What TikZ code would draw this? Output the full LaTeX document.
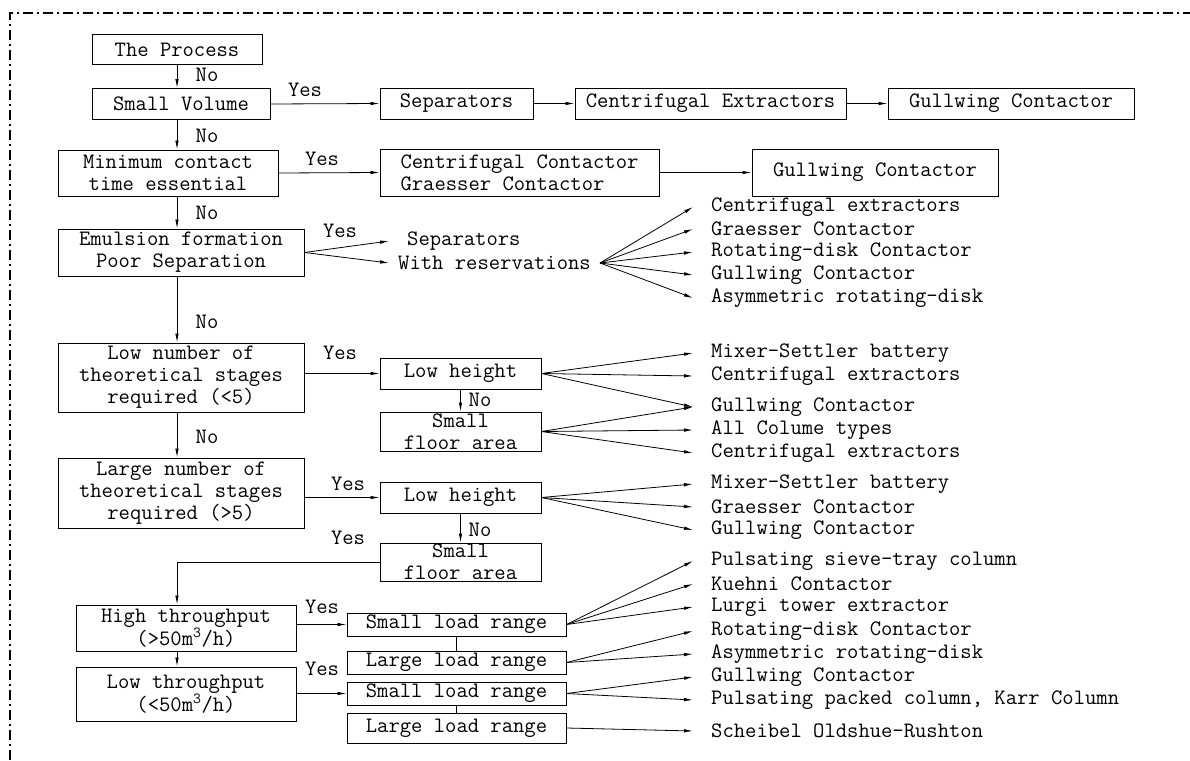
\documentclass[tikz,border=0pt]{standalone}
\usetikzlibrary{arrows.meta,positioning,calc}
\newcommand{\flowfont}{\ttfamily\fontsize{22}{22}\selectfont}
\tikzset{
  query/.style={
    draw=black, line width=1pt, align=center, inner sep=1pt, font=\flowfont
  },
  answer/.style={
    draw=black, line width=1pt, align=center, inner sep=1pt, font=\flowfont
  },
  product/.style={
    anchor=west, inner xsep=18pt, inner ysep=1pt, font=\flowfont
  },
  verdict/.style={inner sep=1pt, font=\flowfont},
  flowlink/.style={-{Latex[length=9pt,width=3.5pt]}, line width=0.8pt},
  tielink/.style={line width=0.8pt},
  framelink/.style={line width=1.2pt, dash pattern=on 10pt off 4pt on 2pt off 4pt}
}

\begin{document}
\begin{tikzpicture}

\useasboundingbox (0,0) rectangle (1190pt,-760pt);
\draw[framelink] (10pt,-760pt) -- (10pt,-13pt) -- (1190pt,-13pt);

% decisions on the left
\node[query, minimum width=170pt, minimum height=30pt] (process) at (177pt,-49.5pt) {The Process};
\node[query, minimum width=178pt, minimum height=31pt] (smallvol) at (181pt,-104pt) {Small Volume};
\node[query, minimum width=220pt, minimum height=46pt] (mincontact) at (168pt,-173pt) {Minimum contact\\time essential};
\node[query, minimum width=246pt, minimum height=47pt] (emulsion) at (181pt,-252.5pt) {Emulsion formation\\Poor Separation};
\node[query, minimum width=246pt, minimum height=69pt] (lownum) at (181pt,-377.5pt) {Low number of\\theoretical stages\\required (<5)};
\node[query, minimum width=246pt, minimum height=70pt] (largenum) at (181pt,-493pt) {Large number of\\theoretical stages\\required (>5)};
\node[query, minimum width=220pt, minimum height=46pt] (highthr) at (186pt,-628pt) {High throughput\\(>50m\textsuperscript{3}/h)};
\node[query, minimum width=220pt, minimum height=54pt] (lowthr) at (186pt,-694pt) {Low throughput\\(<50m\textsuperscript{3}/h)};

% boxes in the middle
\node[answer, minimum width=153pt, minimum height=31pt] (sep1) at (456.5pt,-103.5pt) {Separators};
\node[answer, minimum width=271pt, minimum height=31pt] (centext) at (710.5pt,-103.5pt) {Centrifugal Extractors};
\node[answer, minimum width=246pt, minimum height=31pt] (gull1) at (1011pt,-103.5pt) {Gullwing Contactor};
\node[answer, minimum width=279pt, minimum height=47pt, align=left] (centgr) at (519.5pt,-172.5pt) {Centrifugal Contactor\\Graesser Contactor};
\node[answer, minimum width=246pt, minimum height=47pt] (gull2) at (875pt,-172.5pt) {Gullwing Contactor};
\node[product, inner xsep=18pt] (sepA) at (389pt,-241pt) {Separators};
\node[product, inner xsep=9pt] (resvA) at (389pt,-263pt) {With reservations};
\node[answer, minimum width=161pt, minimum height=31pt] (lowh1) at (460.5pt,-373.5pt) {Low height};
\node[answer, minimum width=161pt, minimum height=39pt] (floor1) at (460.5pt,-431.5pt) {Small\\floor area};
\node[answer, minimum width=161pt, minimum height=31pt] (lowh2) at (460.5pt,-497.5pt) {Low height};
\node[answer, minimum width=161pt, minimum height=38pt] (floor2) at (460.5pt,-562pt) {Small\\floor area};
\node[answer, minimum width=219pt, minimum height=23pt] (smload1) at (456.5pt,-624.5pt) {Small load range};
\node[answer, minimum width=219pt, minimum height=23pt] (lgload1) at (456.5pt,-662.5pt) {Large load range};
\node[answer, minimum width=219pt, minimum height=23pt] (smload2) at (456.5pt,-693.5pt) {Small load range};
\node[answer, minimum width=219pt, minimum height=30pt] (lgload2) at (456.5pt,-728pt) {Large load range};

% equipment on the right
\node[product] (cext1) at (693pt,-207pt) {Centrifugal extractors};
\node[product] (grs1) at (693pt,-229pt) {Graesser Contactor};
\node[product] (rdc1) at (693pt,-252pt) {Rotating-disk Contactor};
\node[product] (gull3) at (693pt,-275pt) {Gullwing Contactor};
\node[product] (asym1) at (693pt,-298pt) {Asymmetric rotating-disk};
\node[product] (mix1) at (693pt,-353pt) {Mixer-Settler battery};
\node[product] (cext2) at (693pt,-376pt) {Centrifugal extractors};
\node[product] (gull4) at (693pt,-407pt) {Gullwing Contactor};
\node[product] (allcol) at (693pt,-430pt) {All Colume types};
\node[product] (cext3) at (693pt,-453pt) {Centrifugal extractors};
\node[product] (mix2) at (693pt,-484pt) {Mixer-Settler battery};
\node[product] (grs2) at (693pt,-507pt) {Graesser Contactor};
\node[product] (gull5) at (693pt,-530pt) {Gullwing Contactor};
\node[product] (sieve) at (693pt,-561pt) {Pulsating sieve-tray column};
\node[product] (kuehni) at (693pt,-584pt) {Kuehni Contactor};
\node[product] (lurgi) at (693pt,-607pt) {Lurgi tower extractor};
\node[product] (rdc2) at (693pt,-631pt) {Rotating-disk Contactor};
\node[product] (asym2) at (693pt,-654pt) {Asymmetric rotating-disk};
\node[product] (gull6) at (693pt,-677pt) {Gullwing Contactor};
\node[product] (karr) at (693pt,-700pt) {Pulsating packed column, Karr Column};
\node[product] (scheibel) at (693pt,-731pt) {Scheibel Oldshue-Rushton};

% yes / no
\node[verdict] (no1) at (207pt,-75pt) {No};
\node[verdict] (no2) at (207pt,-136pt) {No};
\node[verdict] (no3) at (207pt,-213pt) {No};
\node[verdict] (no4) at (207pt,-322pt) {No};
\node[verdict] (no5) at (207pt,-437pt) {No};
\node[verdict] (no6) at (480pt,-400pt) {No};
\node[verdict] (no7) at (480pt,-530pt) {No};
\node[verdict] (yes1) at (305pt,-90pt) {Yes};
\node[verdict] (yes2) at (322pt,-159pt) {Yes};
\node[verdict] (yes3) at (340pt,-231pt) {Yes};
\node[verdict] (yes4) at (340pt,-353pt) {Yes};
\node[verdict] (yes5) at (348pt,-484pt) {Yes};
\node[verdict] (yes6) at (348pt,-538pt) {Yes};
\node[verdict] (yes7) at (322pt,-607pt) {Yes};
\node[verdict] (yes8) at (322pt,-669pt) {Yes};

% main trunk
\draw[flowlink] (process.south) -- (process.south |- smallvol.north);
\draw[flowlink] (smallvol.south -| process.south) -- (mincontact.north -| process.south);
\draw[flowlink] (mincontact.south -| process.south) -- (emulsion.north -| process.south);
\draw[flowlink] (emulsion.south -| process.south) -- (lownum.north -| process.south);
\draw[flowlink] (lownum.south -| process.south) -- (largenum.north -| process.south);
\draw[flowlink] (floor2.west) -| (highthr.north -| process.south);
\draw[flowlink] (highthr.south -| process.south) -- (lowthr.north -| process.south);

% yes branches
\draw[flowlink] (smallvol.east) -- (sep1.west);
\draw[flowlink] (sep1.east) -- (centext.west);
\draw[flowlink] (centext.east) -- (gull1.west);
\draw[flowlink] (mincontact.east) -- (centgr.west);
\draw[flowlink] (centgr.east) -- (gull2.west);
\draw[flowlink] (emulsion.east) -- (sepA.west);
\draw[flowlink] (emulsion.east) -- (resvA.west);
\draw[flowlink] (lowh1.west -| lownum.east) -- (lowh1.west);
\draw[flowlink] (lowh1.south) -- (floor1.north);
\draw[flowlink] (lowh2.west -| largenum.east) -- (lowh2.west);
\draw[flowlink] (lowh2.south) -- (floor2.north);
\draw[flowlink] (smload1.west -| highthr.east) -- (smload1.west);
\draw[flowlink] (smload2.west -| lowthr.east) -- (smload2.west);
\draw[tielink] (smload1.south) -- (lgload1.north);
\draw[tielink] (smload2.south) -- (lgload2.north);

% fans to the equipment
\draw[flowlink] (resvA.east) -- (cext1.west);
\draw[flowlink] (resvA.east) -- (grs1.west);
\draw[flowlink] (resvA.east) -- (rdc1.west);
\draw[flowlink] (resvA.east) -- (gull3.west);
\draw[flowlink] (resvA.east) -- (asym1.west);
\draw[flowlink] (lowh1.east) -- (mix1.west);
\draw[flowlink] (lowh1.east) -- (cext2.west);
\draw[flowlink] (lowh1.east) -- (gull4.west);
\draw[flowlink] (floor1.east) -- (gull4.west);
\draw[flowlink] (floor1.east) -- (allcol.west);
\draw[flowlink] (floor1.east) -- (cext3.west);
\draw[flowlink] (lowh2.east) -- (mix2.west);
\draw[flowlink] (lowh2.east) -- (grs2.west);
\draw[flowlink] (lowh2.east) -- (gull5.west);
\draw[flowlink] (smload1.east) -- (sieve.west);
\draw[flowlink] (smload1.east) -- (kuehni.west);
\draw[flowlink] (smload1.east) -- (lurgi.west);
\draw[flowlink] (lgload1.east) -- (rdc2.west);
\draw[flowlink] (lgload1.east) -- (asym2.west);
\draw[flowlink] (smload2.east) -- (gull6.west);
\draw[flowlink] (smload2.east) -- (karr.west);
\draw[flowlink] (lgload2.east) -- (scheibel.west);

\end{tikzpicture}
\end{document}
